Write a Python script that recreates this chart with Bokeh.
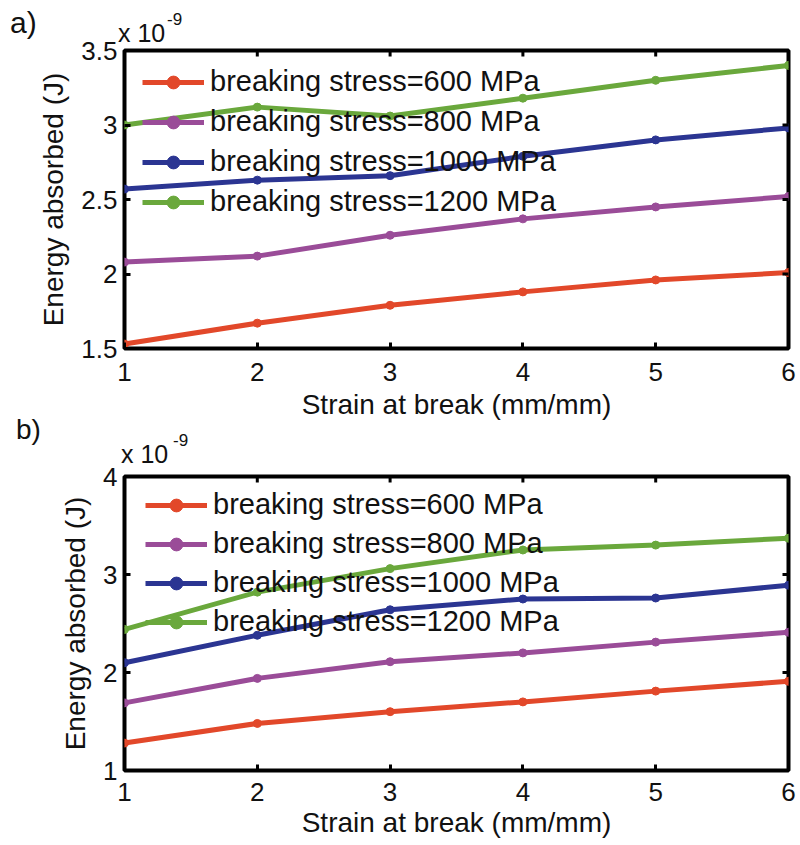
import math
from bokeh.plotting import figure
from bokeh.models import (Legend, LegendItem, FixedTicker, CustomJSTickFormatter, Range1d, Div)
from bokeh.layouts import column
from bokeh.embed import file_html
from bokeh.resources import INLINE

# ---- data (energy in units of 1e-9 J) ----
strain = [1, 2, 3, 4, 5, 6]
series_labels = ["breaking stress=600 MPa", "breaking stress=800 MPa",
                 "breaking stress=1000 MPa", "breaking stress=1200 MPa"]
series_colors = ["#e2482a", "#9a4c98", "#2b3592", "#6aa83c"]

energy_a_600 = [1.53, 1.67, 1.79, 1.88, 1.96, 2.01]
energy_a_800 = [2.08, 2.12, 2.26, 2.37, 2.45, 2.52]
energy_a_1000 = [2.57, 2.63, 2.66, 2.79, 2.90, 2.98]
energy_a_1200 = [3.00, 3.12, 3.06, 3.18, 3.30, 3.40]

energy_b_600 = [1.28, 1.48, 1.60, 1.70, 1.81, 1.91]
energy_b_800 = [1.69, 1.94, 2.11, 2.20, 2.31, 2.41]
energy_b_1000 = [2.10, 2.38, 2.64, 2.75, 2.76, 2.89]
energy_b_1200 = [2.44, 2.82, 3.06, 3.25, 3.30, 3.37]

x_ticks = [1, 2, 3, 4, 5, 6]
y_ticks_a = [1.5, 2, 2.5, 3, 3.5]
y_ticks_b = [1, 2, 3, 4]

panel_tags = ["a)", "b)"]
exp_base = "x 10"
exp_power = "-9"

FONT = "Liberation Sans"
INK = "#111111"


def span(text, left, top, size):
    return ('<span style="position:absolute;left:%dpx;top:%dpx;font-size:%dpx;'
            'line-height:1;white-space:nowrap;">%s</span>' % (left, top, size, text))


def header(height, margin, tag, tag_pos, tag_size, base_pos, pow_pos):
    """HTML strip above a panel: panel tag and the axis multiplier x 10^-9."""
    html = ('<div style="position:relative;width:800px;height:%dpx;'
            'font-family:\'%s\',Arial,sans-serif;color:%s;">' % (height, FONT, INK))
    html += span(tag, tag_pos[0], tag_pos[1], tag_size)
    html += span(exp_base, base_pos[0], base_pos[1], 25)
    html += span(exp_power, pow_pos[0], pow_pos[1], 17)
    html += '</div>'
    return Div(text=html, width=800, height=height, margin=margin)


def make_panel(series, y_ticks, height, border_top, border_bottom, border_left,
               legend_loc, legend_spacing, tick_standoff, label_standoff):
    p = figure(width=800, height=height, output_backend="svg", toolbar_location=None,
               x_range=Range1d(x_ticks[0], x_ticks[-1]),
               y_range=Range1d(y_ticks[0], y_ticks[-1]),
               min_border_top=border_top, min_border_bottom=border_bottom,
               min_border_right=12, min_border_left=border_left)
    p.grid.visible = False
    p.border_fill_alpha = 0
    p.background_fill_color = "white"
    p.outline_line_color = "black"
    p.outline_line_width = 4
    p.outline_line_alpha = 1

    items = []
    for ys, lab, col in zip(series, series_labels, series_colors):
        r1 = p.line(strain, ys, line_color=col, line_width=5)
        r2 = p.scatter(strain, ys, size=8, color=col)
        items.append(LegendItem(label=lab, renderers=[r1, r2]))

    # mirrored inward ticks on the top and right edges (outer half of each dash is clipped)
    p.scatter(x_ticks, [y_ticks[-1]] * len(x_ticks), marker="dash", angle=math.pi / 2,
              size=12, line_color="black", line_width=3)
    p.scatter([x_ticks[-1]] * len(y_ticks), y_ticks, marker="dash",
              size=12, line_color="black", line_width=3)

    fmt = CustomJSTickFormatter(code="return tick.toString()")
    for ax in p.xaxis:
        ax.ticker = FixedTicker(ticks=x_ticks)
        ax.axis_label = "Strain at break (mm/mm)"
    for ax in p.yaxis:
        ax.ticker = FixedTicker(ticks=y_ticks)
        ax.formatter = fmt
        ax.axis_label = "Energy absorbed (J)"
    for ax in p.axis:
        ax.axis_line_color = None
        ax.major_tick_in = 6
        ax.major_tick_out = 0
        ax.major_tick_line_width = 3
        ax.minor_tick_line_color = None
        ax.major_label_text_font = FONT
        ax.major_label_text_font_size = "26px"
        ax.major_label_text_color = INK
        ax.axis_label_text_font = FONT
        ax.axis_label_text_font_size = "28px"
        ax.axis_label_text_font_style = "normal"
        ax.axis_label_text_color = INK
    p.xaxis.major_label_standoff = tick_standoff
    p.xaxis.axis_label_standoff = label_standoff
    p.yaxis.major_label_standoff = 7
    p.yaxis.axis_label_standoff = 9

    leg = Legend(items=items, location=legend_loc, background_fill_alpha=0,
                 border_line_color=None, label_text_font=FONT, label_text_font_size="29px",
                 label_text_color=INK, glyph_width=62, glyph_height=32, label_height=32,
                 label_standoff=6, spacing=legend_spacing, padding=0, margin=0)
    p.add_layout(leg)
    return p


hdr_a = header(44, (0, 0, -24, 0), panel_tags[0], (10, 8), 30, (118, 21), (167, 11))
pa = make_panel([energy_a_600, energy_a_800, energy_a_1000, energy_a_1200], y_ticks_a,
                height=407, border_top=30, border_bottom=79, border_left=118,
                legend_loc=(18, 130), legend_spacing=7, tick_standoff=14, label_standoff=5)
hdr_b = header(58, (-12, 0, -25, 0), panel_tags[1], (16, 1), 28, (121, 27), (173, 17))
pb = make_panel([energy_b_600, energy_b_800, energy_b_1000, energy_b_1200], y_ticks_b,
                height=397, border_top=28, border_bottom=75, border_left=124,
                legend_loc=(21, 132), legend_spacing=6, tick_standoff=12, label_standoff=3)

layout = column(hdr_a, pa, hdr_b, pb, spacing=0)
open("out.html", "w").write(file_html(layout, INLINE))
